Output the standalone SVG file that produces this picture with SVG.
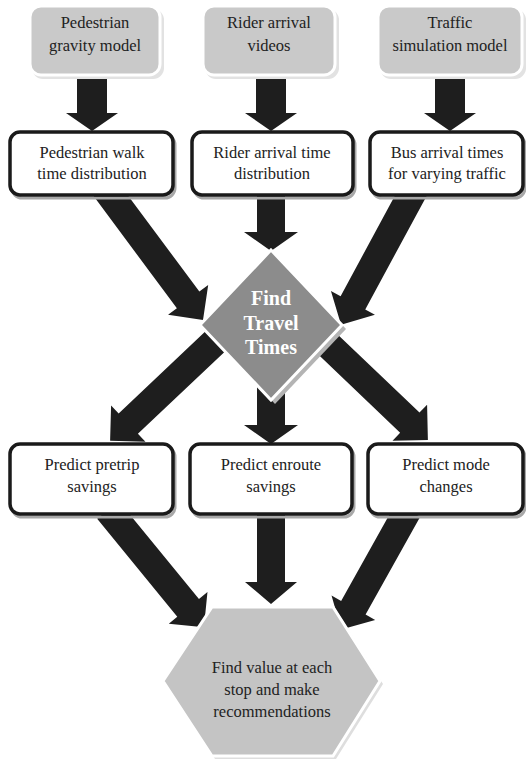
<svg xmlns="http://www.w3.org/2000/svg" width="526" height="762" viewBox="0 0 526 762">
<defs>
<style>
.src{fill:#c9c9c9;stroke:#ffffff;stroke-width:3}
.srcsh{fill:#e2e2e2;stroke:none}
.box{fill:#ffffff;stroke:#1a1a1a;stroke-width:3.5}
.boxsh{fill:none;stroke:#a8a8a8;stroke-width:3}
.t{font-family:'Liberation Serif','Times New Roman',serif;font-size:16.5px;fill:#222222;text-anchor:middle}
.tb{font-family:'Liberation Serif','Times New Roman',serif;font-size:20px;font-weight:bold;fill:#ffffff;text-anchor:middle}
.arr{fill:#1e1e1e}
</style>
</defs>
<rect width="526" height="762" fill="#ffffff"/>
<g id="connectors">
<polygon class="arr" points="77,76 107,76 107,113 118,113 92,131 66,113 77,113"/>
<polygon class="arr" points="256,76 286,76 286,113 297,113 271,131 245,113 256,113"/>
<polygon class="arr" points="435,76 465,76 465,113 476,113 450,131 424,113 435,113"/>
<polygon class="arr" points="257,192 285,192 285,232 298,232 271,251 244,232 257,232"/>
<polygon class="arr" points="257,385 285,385 285,425 298,425 271,444 244,425 257,425"/>
<polygon class="arr" points="257,512 285,512 285,582 297,582 271,604 245,582 257,582"/>
<path class="arr" transform="translate(105,188) rotate(53.4)" d="M0,-14 H139.4 V-25 L164.4,0 L139.4,25 V14 H0 Z"/>
<path class="arr" transform="translate(415,188) rotate(118.4)" d="M0,-14 H130.5 V-25 L155.5,0 L130.5,25 V14 H0 Z"/>
<path class="arr" transform="translate(222,335) rotate(136.6)" d="M0,-14 H129 V-25 L154,0 L129,25 V14 H0 Z"/>
<path class="arr" transform="translate(318,335) rotate(43.7)" d="M0,-14 H127 V-25 L152,0 L127,25 V14 H0 Z"/>
<path class="arr" transform="translate(108,510) rotate(50.7)" d="M0,-14 H126.5 V-25 L151.5,0 L126.5,25 V14 H0 Z"/>
<path class="arr" transform="translate(408,510) rotate(119.2)" d="M0,-14 H112 V-25 L137,0 L112,25 V14 H0 Z"/>
</g>
<g id="n-ped-gravity">
<rect class="srcsh" x="32" y="9" width="132" height="70" rx="11"/>
<rect class="src" x="30" y="6" width="130" height="69" rx="11"/>
<text class="t" x="95" y="28">Pedestrian</text>
<text class="t" x="95" y="51">gravity model</text>
</g>
<g id="n-rider-videos">
<rect class="srcsh" x="205" y="9" width="134" height="70" rx="11"/>
<rect class="src" x="203" y="6" width="132" height="69" rx="11"/>
<text class="t" x="269" y="28">Rider arrival</text>
<text class="t" x="269" y="51">videos</text>
</g>
<g id="n-traffic-sim">
<rect class="srcsh" x="380" y="9" width="146" height="70" rx="11"/>
<rect class="src" x="378" y="6" width="144" height="69" rx="11"/>
<text class="t" x="450" y="28">Traffic</text>
<text class="t" x="450" y="51">simulation model</text>
</g>
<g id="n-ped-walk">
<rect class="boxsh" x="12" y="135" width="163" height="63" rx="10"/>
<rect class="box" x="10" y="132" width="163" height="63" rx="10"/>
<text class="t" x="92" y="158">Pedestrian walk</text>
<text class="t" x="92" y="179">time distribution</text>
</g>
<g id="n-rider-dist">
<rect class="boxsh" x="194" y="135" width="161" height="63" rx="10"/>
<rect class="box" x="192" y="132" width="161" height="63" rx="10"/>
<text class="t" x="272" y="158">Rider arrival time</text>
<text class="t" x="272" y="179">distribution</text>
</g>
<g id="n-bus-times">
<rect class="boxsh" x="372" y="135" width="153" height="63" rx="10"/>
<rect class="box" x="370" y="132" width="153" height="63" rx="10"/>
<text class="t" x="447" y="158">Bus arrival times</text>
<text class="t" x="447" y="179">for varying traffic</text>
</g>
<g id="n-find-travel">
<polygon points="275,254 346,329 275,404 204,329" fill="#b4b4b4"/>
<polygon points="271,250 342,325 271,400 200,325" fill="#8c8c8c" stroke="#ffffff" stroke-width="3"/>
<text class="tb" x="271" y="305">Find</text>
<text class="tb" x="271" y="330">Travel</text>
<text class="tb" x="271" y="354">Times</text>
</g>
<g id="n-pretrip">
<rect class="boxsh" x="12" y="447" width="163" height="70" rx="10"/>
<rect class="box" x="10" y="444" width="163" height="70" rx="10"/>
<text class="t" x="92" y="470">Predict pretrip</text>
<text class="t" x="92" y="492">savings</text>
</g>
<g id="n-enroute">
<rect class="boxsh" x="192" y="447" width="162" height="70" rx="10"/>
<rect class="box" x="190" y="444" width="162" height="70" rx="10"/>
<text class="t" x="271" y="470">Predict enroute</text>
<text class="t" x="271" y="492">savings</text>
</g>
<g id="n-mode">
<rect class="boxsh" x="370" y="447" width="155" height="70" rx="10"/>
<rect class="box" x="368" y="444" width="155" height="70" rx="10"/>
<text class="t" x="446" y="470">Predict mode</text>
<text class="t" x="446" y="492">changes</text>
</g>
<g id="n-find-value">
<polygon points="215,610 336,610 383,684 336,759 215,759 166,684" fill="#dedede"/>
<polygon points="212,607 333,607 380,681 333,756 212,756 163,681" fill="#c4c4c4" stroke="#ffffff" stroke-width="3"/>
<text class="t" x="272" y="673">Find value at each</text>
<text class="t" x="272" y="695">stop and make</text>
<text class="t" x="272" y="717">recommendations</text>
</g>
</svg>
